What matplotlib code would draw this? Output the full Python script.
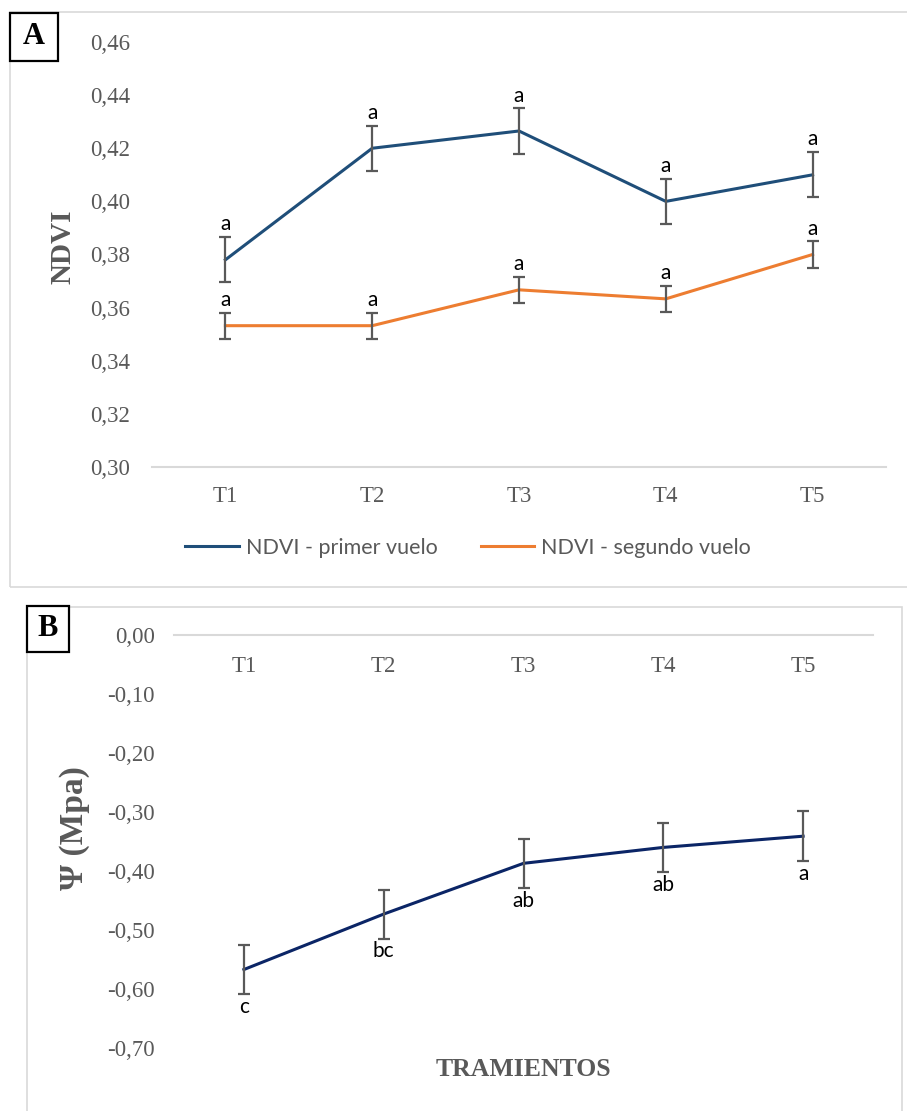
import matplotlib.pyplot as plt
from matplotlib.patches import Rectangle
from matplotlib.ticker import FuncFormatter

tratamientos = ["T1", "T2", "T3", "T4", "T5"]

# panel A - NDVI
ndvi_primer = [0.378, 0.420, 0.4265, 0.400, 0.410]
ndvi_primer_err = [0.0085, 0.0085, 0.0085, 0.0085, 0.0085]
ndvi_primer_letras = ["a", "a", "a", "a", "a"]
ndvi_segundo = [0.3532, 0.3532, 0.3667, 0.3633, 0.380]
ndvi_segundo_err = [0.0049, 0.0049, 0.0049, 0.0049, 0.0049]
ndvi_segundo_letras = ["a", "a", "a", "a", "a"]
ndvi_ticks = [0.30, 0.32, 0.34, 0.36, 0.38, 0.40, 0.42, 0.44, 0.46]

# panel B - potencial hidrico
psi = [-0.567, -0.473, -0.387, -0.360, -0.341]
psi_err = [0.0415, 0.0415, 0.042, 0.042, 0.042]
psi_letras = ["c", "bc", "ab", "ab", "a"]
psi_ticks = [-0.70, -0.60, -0.50, -0.40, -0.30, -0.20, -0.10, 0.00]

W, H = 907, 1111
GRAY = "#595959"
GRID = "#d9d9d9"
SERIF = "Liberation Serif"
SANS = "Lato"

plt.rcParams["font.family"] = [SERIF, "DejaVu Sans"]


def fx(x):
    return x / W


def fy(y):
    return 1 - y / H


def coma(v, pos=None):
    if abs(v) < 1e-9:
        v = 0.0
    return f"{v:.2f}".replace(".", ",")


fig = plt.figure(figsize=(W / 100, H / 100), dpi=100)

# panel frames
fig.patches.append(Rectangle((fx(10), fy(587)), fx(912 - 10), (587 - 12) / H,
                             transform=fig.transFigure, fill=False, ec=GRID, lw=1.2))
fig.patches.append(Rectangle((fx(27), fy(1120)), fx(902 - 27), (1120 - 607) / H,
                             transform=fig.transFigure, fill=False, ec=GRID, lw=1.2))


def estilo(ax):
    for s in ["top", "right", "left"]:
        ax.spines[s].set_visible(False)
    ax.spines["bottom"].set_color(GRID)
    ax.spines["bottom"].set_linewidth(1.5)
    ax.set_xlim(-0.5, 4.5)
    ax.set_xticks(range(len(tratamientos)))
    ax.set_xticklabels(tratamientos)
    ax.yaxis.set_major_formatter(FuncFormatter(coma))
    ax.tick_params(length=0, labelcolor=GRAY, labelsize=16.5)


# ---- A ----
ax1 = fig.add_axes([fx(152), fy(467), fx(886 - 152), (467 - 42) / H])
x = list(range(len(tratamientos)))
l1, = ax1.plot(x, ndvi_primer, color="#1f4e79", lw=2.2, label="NDVI - primer vuelo")
l2, = ax1.plot(x, ndvi_segundo, color="#ed7d31", lw=2.2, label="NDVI - segundo vuelo")
for vals, errs, letras in [(ndvi_primer, ndvi_primer_err, ndvi_primer_letras),
                           (ndvi_segundo, ndvi_segundo_err, ndvi_segundo_letras)]:
    ax1.errorbar(x, vals, yerr=errs, fmt="none", ecolor=GRAY, elinewidth=1.6,
                 capsize=4.5, capthick=1.6, zorder=3)
    for i in x:
        ax1.annotate(letras[i], (i, vals[i] + errs[i]), xytext=(0, 2),
                     textcoords="offset points", ha="center", va="bottom",
                     fontsize=15, family=SANS, color="black")
ax1.set_ylim(0.30, 0.46)
ax1.set_yticks(ndvi_ticks)
estilo(ax1)
ax1.tick_params(axis="x", pad=14)
ax1.tick_params(axis="y", pad=16)

fig.legend([l1, l2], [l1.get_label(), l2.get_label()], loc="center",
           bbox_to_anchor=(fx(468), fy(548)), ncol=2, frameon=False,
           prop={"family": SANS, "size": 15.5}, labelcolor=GRAY,
           handlelength=2.5, handletextpad=0.3, columnspacing=2.0)

fig.text(fx(63), fy(247), "NDVI", rotation=90, ha="center", va="center",
         family=SERIF, weight="bold", fontsize=21, color=GRAY)

# ---- B ----
ax2 = fig.add_axes([fx(174), fy(1048), fx(873 - 174), (1048 - 635) / H])
ax2.plot(x, psi, color="#0b2566", lw=2.2)
ax2.errorbar(x, psi, yerr=psi_err, fmt="none", ecolor=GRAY, elinewidth=1.6,
             capsize=4.5, capthick=1.6, zorder=3)
for i in x:
    ax2.annotate(psi_letras[i], (i, psi[i] - psi_err[i]), xytext=(0, -2),
                 textcoords="offset points", ha="center", va="top",
                 fontsize=15, family=SANS, color="black")
ax2.set_ylim(-0.70, 0.0)
ax2.set_yticks(psi_ticks)
estilo(ax2)
ax2.spines["bottom"].set_position(("data", 0))
ax2.tick_params(axis="x", pad=15)
ax2.tick_params(axis="y", pad=14)

fig.text(fx(75), fy(828), "Ψ (Mpa)", rotation=90, ha="center", va="center",
         family=SERIF, weight="bold", fontsize=24, color=GRAY)
fig.text(fx(523), fy(1069), "TRAMIENTOS", ha="center", va="center",
         family=SERIF, weight="bold", fontsize=18.5, color=GRAY)

# letter boxes
for (x0, y0, x1, y1, letra) in [(10, 13, 58, 61, "A"), (27, 606, 69, 652, "B")]:
    fig.patches.append(Rectangle((fx(x0), fy(y1)), fx(x1 - x0), (y1 - y0) / H,
                                 transform=fig.transFigure, fc="white", ec="black",
                                 lw=1.6, zorder=5))
    fig.text(fx((x0 + x1) / 2), fy((y0 + y1) / 2), letra, ha="center", va="center",
             family=SERIF, weight="bold", fontsize=22, color="black", zorder=6)

fig.savefig("out.png", dpi=100)
